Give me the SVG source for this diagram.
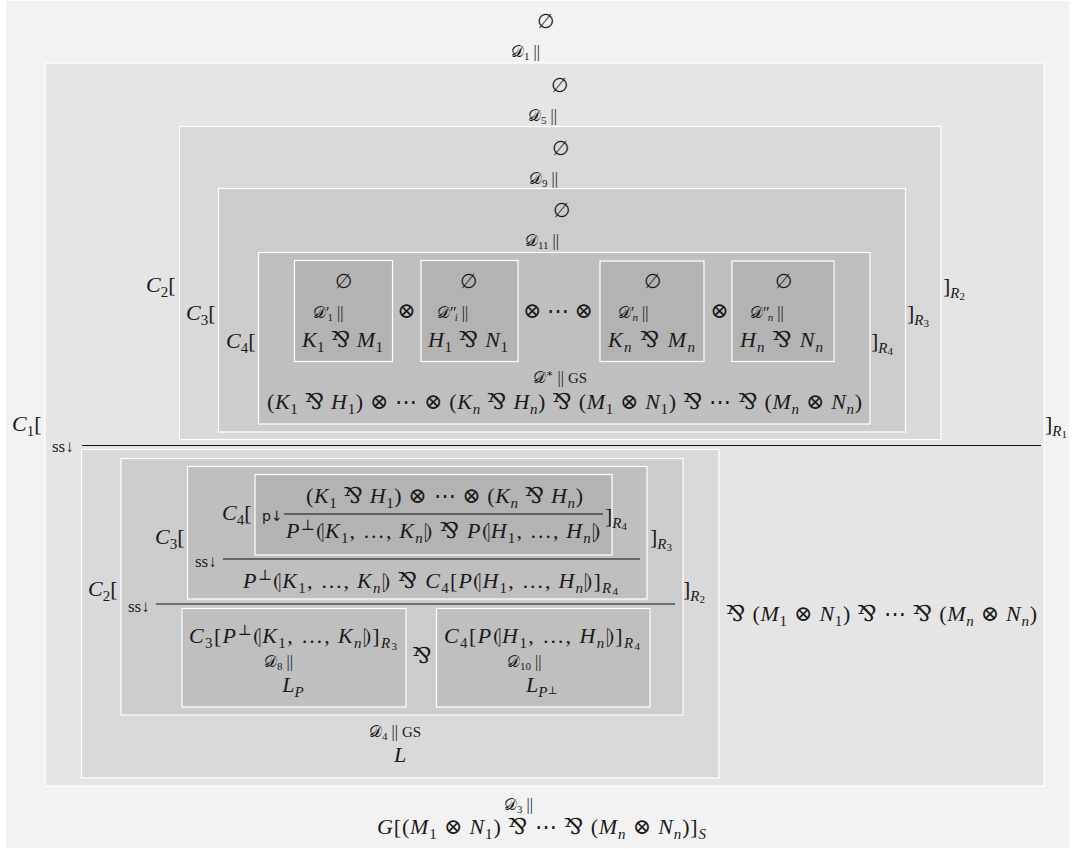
<svg xmlns="http://www.w3.org/2000/svg" width="1075" height="849" viewBox="0 0 1075 849">
<style>
.t{font-family:"Liberation Serif","DejaVu Serif",serif;font-size:22px;fill:#1a1a1a}
.i{font-style:italic}
.sb{font-size:15px}
.d{font-size:16px}
.ss{font-size:11px}
.e{font-size:20px}
.sc{font-size:15px}
.ar{font-size:17px}
.box{stroke:#fff;stroke-width:1.2}
.bar{stroke:#111;stroke-width:1.2}
.l1{fill:#e5e5e5}.l2{fill:#d9d9d9}.l3{fill:#cccccc}.l4{fill:#bfbfbf}.l5{fill:#b3b3b3}
</style>
<rect x="0" y="0" width="1075" height="849" fill="#fff"/>
<rect x="6" y="1" width="1063" height="847" fill="#f2f2f2"/>

<g id="root">
<text class="t e" x="545" y="28" text-anchor="middle">∅</text>
<text class="t d" x="511" y="57">𝒟<tspan class="ss" dy="3">1</tspan><tspan dy="-3"> ||</tspan></text>
<text class="t" x="12" y="431"><tspan class="i">C</tspan><tspan class="sb" dy="5">1</tspan><tspan dy="-5">[</tspan></text>
<text class="t" x="1045" y="431">]<tspan class="sb i" dy="5">R</tspan><tspan class="ss" dy="2">1</tspan></text>
<text class="t d" x="504" y="810">𝒟<tspan class="ss" dy="3">3</tspan><tspan dy="-3"> ||</tspan></text>
<text class="t" x="377" y="834" textLength="329" lengthAdjust="spacing"><tspan class="i">G</tspan>[(<tspan class="i">M</tspan><tspan class="sb" dy="5">1</tspan><tspan dy="-5"> ⊗ </tspan><tspan class="i">N</tspan><tspan class="sb" dy="5">1</tspan><tspan dy="-5">) ⅋ ⋯ ⅋ (</tspan><tspan class="i">M</tspan><tspan class="sb i" dy="5">n</tspan><tspan dy="-5"> ⊗ </tspan><tspan class="i">N</tspan><tspan class="sb i" dy="5">n</tspan><tspan dy="-5">)]</tspan><tspan class="sb i" dy="5">S</tspan></text>
</g>

<g id="boxA">
<rect class="box l1" x="45" y="63" width="999" height="723"/>
<text class="t e" x="559" y="92" text-anchor="middle">∅</text>
<text class="t d" x="528" y="121">𝒟<tspan class="ss" dy="3">5</tspan><tspan dy="-3"> ||</tspan></text>
<text class="t ar" x="52" y="452">ss↓</text>
<text class="t" x="146" y="292"><tspan class="i">C</tspan><tspan class="sb" dy="5">2</tspan><tspan dy="-5">[</tspan></text>
<text class="t" x="943" y="293">]<tspan class="sb i" dy="5">R</tspan><tspan class="ss" dy="2">2</tspan></text>
<text class="t" x="726" y="621" textLength="311" lengthAdjust="spacing">⅋ (<tspan class="i">M</tspan><tspan class="sb" dy="5">1</tspan><tspan dy="-5"> ⊗ </tspan><tspan class="i">N</tspan><tspan class="sb" dy="5">1</tspan><tspan dy="-5">) ⅋ ⋯ ⅋ (</tspan><tspan class="i">M</tspan><tspan class="sb i" dy="5">n</tspan><tspan dy="-5"> ⊗ </tspan><tspan class="i">N</tspan><tspan class="sb i" dy="5">n</tspan><tspan dy="-5">)</tspan></text>
</g>

<g id="boxB">
<rect class="box l2" x="179.5" y="126.5" width="761.5" height="313"/>
<text class="t e" x="560" y="155" text-anchor="middle">∅</text>
<text class="t d" x="529" y="184">𝒟<tspan class="ss" dy="3">9</tspan><tspan dy="-3"> ||</tspan></text>
<text class="t" x="186" y="320"><tspan class="i">C</tspan><tspan class="sb" dy="5">3</tspan><tspan dy="-5">[</tspan></text>
<text class="t" x="907" y="320">]<tspan class="sb i" dy="5">R</tspan><tspan class="ss" dy="2">3</tspan></text>
</g>

<g id="boxC">
<rect class="box l3" x="218.5" y="188.5" width="687" height="243.5"/>
<text class="t e" x="561" y="217" text-anchor="middle">∅</text>
<text class="t d" x="525" y="246">𝒟<tspan class="ss" dy="3">11</tspan><tspan dy="-3"> ||</tspan></text>
<text class="t" x="226" y="348"><tspan class="i">C</tspan><tspan class="sb" dy="5">4</tspan><tspan dy="-5">[</tspan></text>
<text class="t" x="871" y="348">]<tspan class="sb i" dy="5">R</tspan><tspan class="ss" dy="2">4</tspan></text>
</g>

<g id="boxD">
<rect class="box l4" x="258.5" y="252.5" width="611.5" height="171.5"/>
<text class="t" x="406.5" y="318" text-anchor="middle">⊗</text>
<text class="t" x="558" y="318" text-anchor="middle">⊗ ⋯ ⊗</text>
<text class="t" x="719.5" y="318" text-anchor="middle">⊗</text>
<text class="t d" x="533" y="383">𝒟<tspan class="ss" dy="-6">∗</tspan><tspan dy="6"> || </tspan><tspan class="sc">GS</tspan></text>
<text class="t" x="267" y="409" textLength="595" lengthAdjust="spacing">(<tspan class="i">K</tspan><tspan class="sb" dy="5">1</tspan><tspan dy="-5"> ⅋ </tspan><tspan class="i">H</tspan><tspan class="sb" dy="5">1</tspan><tspan dy="-5">) ⊗ ⋯ ⊗ (</tspan><tspan class="i">K</tspan><tspan class="sb i" dy="5">n</tspan><tspan dy="-5"> ⅋ </tspan><tspan class="i">H</tspan><tspan class="sb i" dy="5">n</tspan><tspan dy="-5">) ⅋ (</tspan><tspan class="i">M</tspan><tspan class="sb" dy="5">1</tspan><tspan dy="-5"> ⊗ </tspan><tspan class="i">N</tspan><tspan class="sb" dy="5">1</tspan><tspan dy="-5">) ⅋ ⋯ ⅋ (</tspan><tspan class="i">M</tspan><tspan class="sb i" dy="5">n</tspan><tspan dy="-5"> ⊗ </tspan><tspan class="i">N</tspan><tspan class="sb i" dy="5">n</tspan><tspan dy="-5">)</tspan></text>
</g>

<g id="leaf1">
<rect class="box l5" x="294.5" y="260.5" width="98" height="101"/>
<text class="t e" x="343" y="288" text-anchor="middle">∅</text>
<text class="t d" x="313" y="318">𝒟′<tspan class="ss" dy="3" dx="-2">1</tspan><tspan dy="-3"> ||</tspan></text>
<text class="t" x="302" y="347" textLength="81" lengthAdjust="spacing"><tspan class="i">K</tspan><tspan class="sb" dy="5">1</tspan><tspan dy="-5"> ⅋ </tspan><tspan class="i">M</tspan><tspan class="sb" dy="5">1</tspan></text>
</g>
<g id="leaf2">
<rect class="box l5" x="421" y="260.5" width="97" height="101"/>
<text class="t e" x="468" y="288" text-anchor="middle">∅</text>
<text class="t d" x="437" y="318">𝒟″<tspan class="ss i" dy="3" dx="-2">i</tspan><tspan dy="-3"> ||</tspan></text>
<text class="t" x="428" y="347" textLength="80" lengthAdjust="spacing"><tspan class="i">H</tspan><tspan class="sb" dy="5">1</tspan><tspan dy="-5"> ⅋ </tspan><tspan class="i">N</tspan><tspan class="sb" dy="5">1</tspan></text>
</g>
<g id="leaf3">
<rect class="box l5" x="600" y="261" width="104" height="100.5"/>
<text class="t e" x="652" y="288" text-anchor="middle">∅</text>
<text class="t d" x="618" y="318">𝒟′<tspan class="ss i" dy="3" dx="-2">n</tspan><tspan dy="-3"> ||</tspan></text>
<text class="t" x="608" y="347" textLength="87" lengthAdjust="spacing"><tspan class="i">K</tspan><tspan class="sb i" dy="5">n</tspan><tspan dy="-5"> ⅋ </tspan><tspan class="i">M</tspan><tspan class="sb i" dy="5">n</tspan></text>
</g>
<g id="leaf4">
<rect class="box l5" x="732" y="261" width="102" height="100.5"/>
<text class="t e" x="783" y="288" text-anchor="middle">∅</text>
<text class="t d" x="750" y="318">𝒟″<tspan class="ss i" dy="3" dx="-2">n</tspan><tspan dy="-3"> ||</tspan></text>
<text class="t" x="740" y="347" textLength="83" lengthAdjust="spacing"><tspan class="i">H</tspan><tspan class="sb i" dy="5">n</tspan><tspan dy="-5"> ⅋ </tspan><tspan class="i">N</tspan><tspan class="sb i" dy="5">n</tspan></text>
</g>

<g id="boxB2">
<rect class="box l2" x="81.5" y="449.5" width="637.5" height="328.5"/>
<text class="t" x="88" y="596"><tspan class="i">C</tspan><tspan class="sb" dy="5">2</tspan><tspan dy="-5">[</tspan></text>
<text class="t" x="683" y="596">]<tspan class="sb i" dy="5">R</tspan><tspan class="ss" dy="2">2</tspan></text>
<text class="t d" x="369" y="737">𝒟<tspan class="ss" dy="3">4</tspan><tspan dy="-3"> || </tspan><tspan class="sc">GS</tspan></text>
<text class="t" x="400" y="762" text-anchor="middle"><tspan class="i">L</tspan></text>
</g>

<g id="boxC2">
<rect class="box l3" x="121" y="458.5" width="562" height="256.5"/>
<text class="t ar" x="128" y="612">ss↓</text>
<text class="t" x="650" y="544">]<tspan class="sb i" dy="5">R</tspan><tspan class="ss" dy="2">3</tspan></text>
<text class="t" x="422" y="663" text-anchor="middle">⅋</text>
</g>

<g id="boxD2">
<rect class="box l4" x="187.5" y="466.5" width="459.5" height="132.5"/>
<text class="t" x="155" y="544"><tspan class="i">C</tspan><tspan class="sb" dy="5">3</tspan><tspan dy="-5">[</tspan></text>
<text class="t ar" x="195" y="567">ss↓</text>
<text class="t" x="222" y="520"><tspan class="i">C</tspan><tspan class="sb" dy="5">4</tspan><tspan dy="-5">[</tspan></text>
<text class="t" x="243" y="588" textLength="375" lengthAdjust="spacing"><tspan class="i">P</tspan><tspan class="sb" dy="-8">⊥</tspan><tspan dy="8">⦇</tspan><tspan class="i">K</tspan><tspan class="sb" dy="5">1</tspan><tspan dy="-5">, …, </tspan><tspan class="i">K</tspan><tspan class="sb i" dy="5">n</tspan><tspan dy="-5">⦈ ⅋ </tspan><tspan class="i">C</tspan><tspan class="sb" dy="5">4</tspan><tspan dy="-5">[</tspan><tspan class="i">P</tspan>⦇<tspan class="i">H</tspan><tspan class="sb" dy="5">1</tspan><tspan dy="-5">, …, </tspan><tspan class="i">H</tspan><tspan class="sb i" dy="5">n</tspan><tspan dy="-5">⦈]</tspan><tspan class="sb i" dy="5">R</tspan><tspan class="ss" dy="2">4</tspan></text>
</g>

<g id="boxE2">
<rect class="box l5" x="255" y="474.5" width="357" height="80.5"/>
<text class="t" x="262" y="521" style="font-family:'DejaVu Sans',sans-serif;font-size:14px">p↓</text>
<text class="t" x="306" y="503" textLength="277" lengthAdjust="spacing">(<tspan class="i">K</tspan><tspan class="sb" dy="5">1</tspan><tspan dy="-5"> ⅋ </tspan><tspan class="i">H</tspan><tspan class="sb" dy="5">1</tspan><tspan dy="-5">) ⊗ ⋯ ⊗ (</tspan><tspan class="i">K</tspan><tspan class="sb i" dy="5">n</tspan><tspan dy="-5"> ⅋ </tspan><tspan class="i">H</tspan><tspan class="sb i" dy="5">n</tspan><tspan dy="-5">)</tspan></text>
<text class="t" x="286" y="538" textLength="314" lengthAdjust="spacing"><tspan class="i">P</tspan><tspan class="sb" dy="-8">⊥</tspan><tspan dy="8">⦇</tspan><tspan class="i">K</tspan><tspan class="sb" dy="5">1</tspan><tspan dy="-5">, …, </tspan><tspan class="i">K</tspan><tspan class="sb i" dy="5">n</tspan><tspan dy="-5">⦈ ⅋ </tspan><tspan class="i">P</tspan>⦇<tspan class="i">H</tspan><tspan class="sb" dy="5">1</tspan><tspan dy="-5">, …, </tspan><tspan class="i">H</tspan><tspan class="sb i" dy="5">n</tspan><tspan dy="-5">⦈</tspan></text>
</g>
<text class="t" x="605" y="523">]<tspan class="sb i" dy="5">R</tspan><tspan class="ss" dy="2">4</tspan></text>

<g id="boxF1">
<rect class="box l4" x="182" y="608.5" width="224" height="98.5"/>
<text class="t" x="189" y="643" textLength="208" lengthAdjust="spacing"><tspan class="i">C</tspan><tspan class="sb" dy="5">3</tspan><tspan dy="-5">[</tspan><tspan class="i">P</tspan><tspan class="sb" dy="-8">⊥</tspan><tspan dy="8">⦇</tspan><tspan class="i">K</tspan><tspan class="sb" dy="5">1</tspan><tspan dy="-5">, …, </tspan><tspan class="i">K</tspan><tspan class="sb i" dy="5">n</tspan><tspan dy="-5">⦈]</tspan><tspan class="sb i" dy="5">R</tspan><tspan class="ss" dy="2">3</tspan></text>
<text class="t d" x="264" y="667">𝒟<tspan class="ss" dy="3">8</tspan><tspan dy="-3"> ||</tspan></text>
<text class="t" x="293" y="692" text-anchor="middle"><tspan class="i">L</tspan><tspan class="sb i" dy="5">P</tspan></text>
</g>
<g id="boxF2">
<rect class="box l4" x="436.5" y="608.5" width="213.5" height="98.5"/>
<text class="t" x="444" y="643" textLength="196" lengthAdjust="spacing"><tspan class="i">C</tspan><tspan class="sb" dy="5">4</tspan><tspan dy="-5">[</tspan><tspan class="i">P</tspan>⦇<tspan class="i">H</tspan><tspan class="sb" dy="5">1</tspan><tspan dy="-5">, …, </tspan><tspan class="i">H</tspan><tspan class="sb i" dy="5">n</tspan><tspan dy="-5">⦈]</tspan><tspan class="sb i" dy="5">R</tspan><tspan class="ss" dy="2">4</tspan></text>
<text class="t d" x="507" y="667">𝒟<tspan class="ss" dy="3">10</tspan><tspan dy="-3"> ||</tspan></text>
<text class="t" x="542" y="692" text-anchor="middle"><tspan class="i">L</tspan><tspan class="sb i" dy="5">P</tspan><tspan class="ss" dy="-3">⊥</tspan></text>
</g>

<g id="connectors">
<line class="bar" x1="82" y1="445.5" x2="1041" y2="445.5"/>
<line class="bar" x1="156" y1="604" x2="675" y2="604"/>
<line class="bar" x1="223" y1="559" x2="640" y2="559"/>
<line class="bar" x1="284" y1="514" x2="603" y2="514"/>
</g>
</svg>
